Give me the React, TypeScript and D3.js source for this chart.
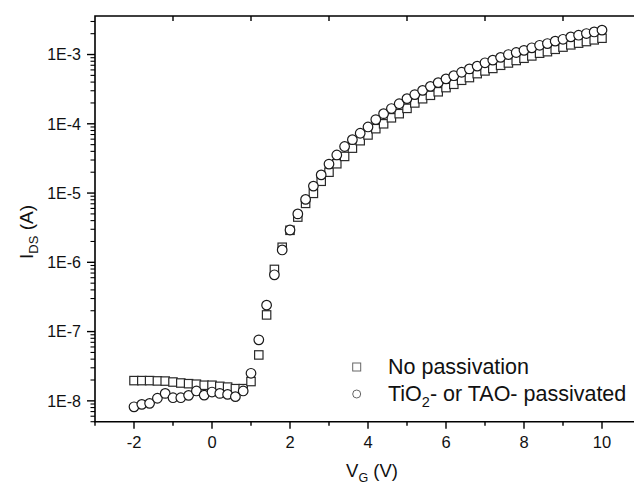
import React from "react";
import * as d3 from "d3";

const vg = [
  -2.0, -1.8, -1.6, -1.4, -1.2, -1.0, -0.8, -0.6, -0.4, -0.2,
  0.0, 0.2, 0.4, 0.6, 0.8, 1.0, 1.2, 1.4, 1.6, 1.8,
  2.0, 2.2, 2.4, 2.6, 2.8, 3.0, 3.2, 3.4, 3.6, 3.8,
  4.0, 4.2, 4.4, 4.6, 4.8, 5.0, 5.2, 5.4, 5.6, 5.8,
  6.0, 6.2, 6.4, 6.6, 6.8, 7.0, 7.2, 7.4, 7.6, 7.8,
  8.0, 8.2, 8.4, 8.6, 8.8, 9.0, 9.2, 9.4, 9.6, 9.8, 10.0,
];

const noPassivation = [
  1.96e-8, 1.96e-8, 1.96e-8, 1.94e-8, 1.93e-8, 1.87e-8, 1.81e-8, 1.77e-8, 1.74e-8, 1.68e-8,
  1.68e-8, 1.62e-8, 1.58e-8, 1.5e-8, 1.5e-8, 1.9e-8, 4.6e-8, 1.74e-7, 7.9e-7, 1.65e-6,
  2.9e-6, 4.5e-6, 7.1e-6, 9.9e-6, 1.48e-5, 2.0e-5, 2.65e-5, 3.38e-5, 4.45e-5, 5.7e-5,
  6.9e-5, 8.5e-5, 1.0e-4, 1.22e-4, 1.4e-4, 1.67e-4, 2.0e-4, 2.3e-4, 2.58e-4, 2.9e-4,
  3.33e-4, 3.72e-4, 4.25e-4, 4.65e-4, 5.3e-4, 5.8e-4, 6.3e-4, 7.0e-4, 7.55e-4, 8.2e-4,
  8.84e-4, 9.55e-4, 1.045e-3, 1.1e-3, 1.19e-3, 1.28e-3, 1.38e-3, 1.46e-3, 1.54e-3, 1.63e-3, 1.72e-3,
];

const passivated = [
  8.2e-9, 8.9e-9, 9.2e-9, 1.09e-8, 1.28e-8, 1.11e-8, 1.11e-8, 1.2e-8, 1.39e-8, 1.21e-8,
  1.34e-8, 1.28e-8, 1.24e-8, 1.15e-8, 1.39e-8, 2.5e-8, 7.6e-8, 2.41e-7, 6.6e-7, 1.51e-6,
  2.93e-6, 5.0e-6, 8.1e-6, 1.26e-5, 1.83e-5, 2.62e-5, 3.55e-5, 4.7e-5, 5.9e-5, 7.3e-5,
  9.0e-5, 1.15e-4, 1.4e-4, 1.66e-4, 1.95e-4, 2.31e-4, 2.64e-4, 3.04e-4, 3.47e-4, 3.93e-4,
  4.45e-4, 4.95e-4, 5.55e-4, 6.2e-4, 6.8e-4, 7.6e-4, 8.3e-4, 9.1e-4, 1.0e-3, 1.07e-3,
  1.15e-3, 1.25e-3, 1.36e-3, 1.44e-3, 1.56e-3, 1.66e-3, 1.8e-3, 1.9e-3, 2.01e-3, 2.12e-3, 2.25e-3,
];

const xMajorTicks = [-2, 0, 2, 4, 6, 8, 10];
const xMinorTicks = [-3, -1, 1, 3, 5, 7, 9, 11];
const xTopTicks = [-1, 1, 3, 5, 7, 9];
const yMajorTicks = [1e-8, 1e-7, 1e-6, 1e-5, 1e-4, 1e-3];
const yTickLabels = ["1E-8", "1E-7", "1E-6", "1E-5", "1E-4", "1E-3"];
const legendLabels = ["No passivation", "TiO2- or TAO- passivated"];

const W = 634;
const H = 486;
const left = 95;
const right = 641;
const top = 16;
const bottom = 421.7;
const FONT = "'Liberation Sans', Arial, Helvetica, sans-serif";

export default function App() {
  const x = d3.scaleLinear().domain([-3, 11]).range([left, right]);
  const y = d3.scaleLog().domain([5e-9, 3.6e-3]).range([bottom, top]);

  const yMinor: number[] = [];
  for (let e = -9; e <= -3; e++) {
    for (let m = 2; m <= 9; m++) {
      const v = m * Math.pow(10, e);
      if (v >= 5e-9 && v <= 3.6e-3) yMinor.push(v);
    }
  }

  const sq = 8.4;
  const r = 4.8;

  return (
    <svg
      width={W}
      height={H}
      style={{ position: "absolute", left: 0, top: 0, background: "#fff" }}
      fontFamily={FONT}
    >
      <rect x={0} y={0} width={W} height={H} fill="#fff" />

      {/* data: squares */}
      <g>
        {vg.map((v, i) => (
          <rect
            key={"s" + i}
            x={x(v) - sq / 2}
            y={y(noPassivation[i]) - sq / 2}
            width={sq}
            height={sq}
            fill="#fff"
            stroke="#2a2a2a"
            strokeWidth={1.2}
          />
        ))}
      </g>
      {/* data: circles */}
      <g>
        {vg.map((v, i) => (
          <circle
            key={"c" + i}
            cx={x(v)}
            cy={y(passivated[i])}
            r={r}
            fill="#fff"
            stroke="#1a1a1a"
            strokeWidth={1.2}
          />
        ))}
      </g>

      {/* frame */}
      <path
        d={`M${right + 5},${top} H${left} V${bottom} H${right + 5}`}
        fill="none"
        stroke="#000"
        strokeWidth={1.6}
      />

      {/* bottom ticks */}
      {xMajorTicks.map((t) => (
        <line key={"xm" + t} x1={x(t)} x2={x(t)} y1={bottom} y2={bottom + 7} stroke="#000" strokeWidth={1.4} />
      ))}
      {xMinorTicks.map((t) => (
        <line key={"xn" + t} x1={x(t)} x2={x(t)} y1={bottom} y2={bottom + 4} stroke="#000" strokeWidth={1.4} />
      ))}
      {xTopTicks.map((t) => (
        <line key={"xt" + t} x1={x(t)} x2={x(t)} y1={top} y2={top + 5} stroke="#000" strokeWidth={1.4} />
      ))}
      {xMajorTicks.map((t) => (
        <text key={"xl" + t} x={x(t)} y={448} textAnchor="middle" fontSize={16.5} fill="#111">
          {t}
        </text>
      ))}

      {/* left ticks */}
      {yMajorTicks.map((t, i) => (
        <g key={"ym" + i}>
          <line x1={left - 8} x2={left} y1={y(t)} y2={y(t)} stroke="#000" strokeWidth={1.4} />
          <text x={81} y={y(t)} dy="0.36em" textAnchor="end" fontSize={16} fill="#111">
            {yTickLabels[i]}
          </text>
        </g>
      ))}
      {yMinor.map((t, i) => (
        <line key={"yn" + i} x1={left - 4.5} x2={left} y1={y(t)} y2={y(t)} stroke="#000" strokeWidth={1.1} />
      ))}

      {/* axis titles */}
      <text x={372} y={477} textAnchor="middle" fontSize={18.5} fill="#111">
        V<tspan fontSize={12.5} dy={5}>G</tspan>
        <tspan dy={-5}> (V)</tspan>
      </text>
      <text
        transform={`translate(33,232) rotate(-90)`}
        textAnchor="middle"
        fontSize={19}
        fill="#111"
      >
        I<tspan fontSize={13} dy={5}>DS</tspan>
        <tspan dy={-5}> (A)</tspan>
      </text>

      {/* legend */}
      <rect x={356.7 - 4} y={367 - 4} width={8} height={8} fill="#fff" stroke="#666" strokeWidth={1} />
      <circle cx={356.7} cy={394} r={4} fill="#fff" stroke="#666" strokeWidth={1} />
      <text x={388} y={374} fontSize={21.5} fill="#111">
        {legendLabels[0]}
      </text>
      <text x={388} y={401} fontSize={21.5} fill="#111">
        TiO<tspan fontSize={14.5} dy={6}>2</tspan>
        <tspan dy={-6}>- or TAO- passivated</tspan>
      </text>
    </svg>
  );
}
